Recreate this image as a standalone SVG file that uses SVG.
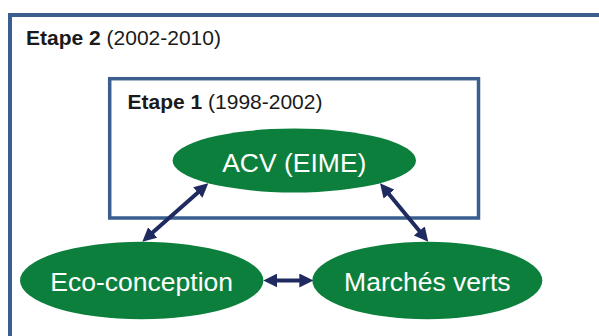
<svg xmlns="http://www.w3.org/2000/svg" width="599" height="336" viewBox="0 0 599 336">
<style>
.frame{fill:none;stroke:#3A5F8F}
.node{fill:#0D7F3D}
.ntext{fill:#FFFFFF;font-family:"Liberation Sans",Arial,sans-serif;font-size:26.5px;text-anchor:middle}
.title{fill:#1A1A1A;font-family:"Liberation Sans",Arial,sans-serif;font-size:21px}
.conn{stroke:#1F2A60;stroke-width:4;fill:none;marker-start:url(#ah);marker-end:url(#ah)}
</style>
<defs>
<marker id="ah" viewBox="0 0 14 14" refX="4" refY="7" markerWidth="14" markerHeight="14" markerUnits="userSpaceOnUse" orient="auto-start-reverse">
<path d="M0,0 L14,7 L0,14 z" fill="#1F2A60"/>
</marker>
</defs>
<rect width="599" height="336" fill="#FFFFFF"/>
<g id="etape2">
<rect class="frame" x="10" y="15" width="620" height="340" stroke-width="4"/>
<text class="title" x="26" y="45"><tspan font-weight="bold">Etape 2</tspan> (2002-2010)</text>
</g>
<g id="etape1">
<rect class="frame" x="109.7" y="78.7" width="368.8" height="139.3" stroke-width="3.5"/>
<text class="title" x="127.5" y="108.5"><tspan font-weight="bold">Etape 1</tspan> (1998-2002)</text>
</g>
<g id="connectors">
<line class="conn" x1="200.8" y1="189.9" x2="149.8" y2="235.1"/>
<line class="conn" x1="386.4" y1="191.0" x2="421.9" y2="234.0"/>
<line class="conn" x1="273.3" y1="280.5" x2="303.3" y2="280.5"/>
</g>
<g id="acv">
<ellipse class="node" cx="294.3" cy="160.5" rx="121.7" ry="32"/>
<text class="ntext" x="294.3" y="172">ACV (EIME)</text>
</g>
<g id="eco">
<ellipse class="node" cx="141.7" cy="280.5" rx="121.7" ry="38.8"/>
<text class="ntext" x="141.7" y="291">Eco-conception</text>
</g>
<g id="marches">
<ellipse class="node" cx="427.3" cy="280.5" rx="115" ry="38.8"/>
<text class="ntext" x="427.3" y="291">Marchés verts</text>
</g>
</svg>
